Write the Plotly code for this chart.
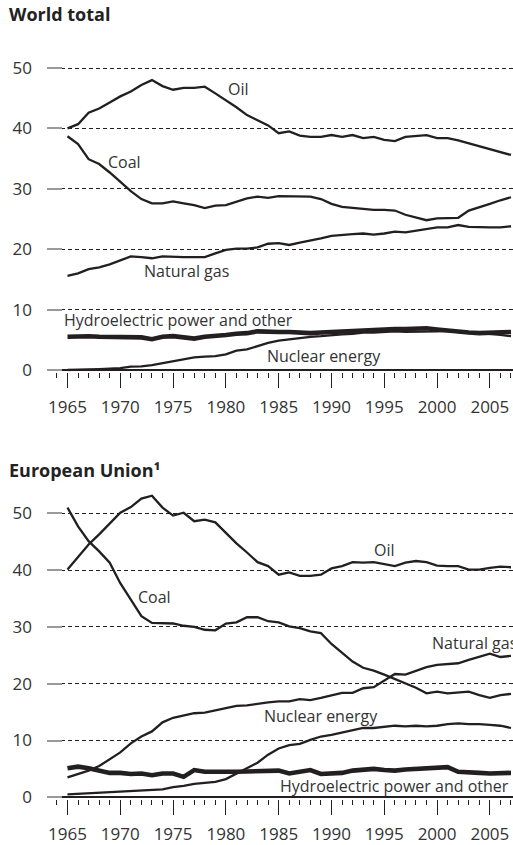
import plotly.graph_objects as go
from plotly.subplots import make_subplots

years = list(range(1965, 2008))

# World total (% share)
world_oil = [40.0, 40.7, 42.6, 43.3, 44.3, 45.3, 46.1, 47.2, 48.0, 47.0, 46.4, 46.7, 46.7, 46.9, 45.8,
             44.7, 43.5, 42.2, 41.4, 40.5, 39.2, 39.5, 38.8, 38.6, 38.6, 38.9, 38.6, 38.9, 38.4, 38.6,
             38.1, 37.9, 38.6, 38.7, 38.9, 38.4, 38.4, 38.0, 37.5, 37.1, 36.6, 36.0, 35.6]
world_coal = [38.7, 37.4, 34.9, 34.1, 32.7, 31.2, 29.6, 28.3, 27.6, 27.6, 27.9, 27.6, 27.3, 26.8, 27.2,
              27.3, 27.9, 28.4, 28.7, 28.5, 28.8, 28.8, 28.8, 28.7, 28.3, 27.5, 27.0, 26.8, 26.7, 26.5,
              26.5, 26.4, 25.7, 25.3, 24.8, 25.1, 25.1, 25.2, 26.4, 26.9, 27.5, 28.1, 28.6]
world_gas = [15.6, 16.0, 16.7, 17.0, 17.5, 18.2, 18.8, 18.7, 18.5, 18.8, 18.7, 18.7, 18.7, 18.7, 19.3,
             19.9, 20.1, 20.1, 20.3, 20.9, 21.0, 20.7, 21.1, 21.4, 21.8, 22.2, 22.4, 22.5, 22.6, 22.4,
             22.6, 22.9, 22.8, 23.1, 23.3, 23.6, 23.6, 24.0, 23.7, 23.6, 23.6, 23.6, 23.8]
world_hydro = [5.5, 5.6, 5.6, 5.5, 5.5, 5.4, 5.4, 5.4, 5.1, 5.5, 5.6, 5.4, 5.2, 5.5, 5.6,
               5.8, 6.0, 6.1, 6.4, 6.3, 6.3, 6.3, 6.2, 6.1, 6.2, 6.3, 6.3, 6.4, 6.6, 6.6,
               6.7, 6.8, 6.8, 6.9, 6.9, 6.7, 6.5, 6.3, 6.2, 6.1, 6.2, 6.3, 6.3]
world_nuclear = [0.0, 0.0, 0.1, 0.15, 0.2, 0.3, 0.55, 0.6, 0.8, 1.1, 1.5, 1.8, 2.1, 2.2, 2.3,
                 2.6, 3.2, 3.4, 3.9, 4.5, 4.85, 5.1, 5.35, 5.5, 5.6, 5.8, 5.9, 6.0, 6.2, 6.2,
                 6.3, 6.4, 6.3, 6.3, 6.4, 6.4, 6.5, 6.3, 6.1, 6.1, 6.0, 5.8, 5.6]

# European Union (% share)
eu_oil = [40.1, 42.4, 44.5, 46.3, 48.2, 50.1, 51.1, 52.6, 53.1, 51.0, 49.6, 50.1, 48.6, 48.9, 48.4,
          46.6, 44.7, 43.1, 41.4, 40.7, 39.2, 39.6, 39.0, 39.0, 39.2, 40.3, 40.7, 41.4, 41.3, 41.4,
          41.1, 40.7, 41.3, 41.6, 41.4, 40.8, 40.7, 40.7, 40.1, 40.1, 40.4, 40.6, 40.5]
eu_coal = [51.0, 47.7, 45.1, 43.3, 41.3, 37.7, 34.8, 31.9, 30.7, 30.7, 30.6, 30.2, 30.0, 29.5, 29.4,
           30.6, 30.8, 31.7, 31.7, 31.0, 30.8, 30.1, 29.8, 29.2, 28.9, 27.0, 25.4, 23.9, 22.8, 22.3,
           21.6, 20.8, 20.1, 19.3, 18.3, 18.6, 18.3, 18.4, 18.6, 18.0, 17.5, 18.0, 18.2]
eu_gas = [3.5, 4.1, 4.7, 5.5, 6.7, 7.9, 9.5, 10.7, 11.6, 13.2, 14.0, 14.4, 14.8, 14.9, 15.3,
          15.7, 16.1, 16.2, 16.5, 16.7, 16.9, 16.9, 17.3, 17.1, 17.5, 18.0, 18.4, 18.4, 19.2, 19.4,
          20.6, 21.7, 21.6, 22.2, 22.9, 23.3, 23.5, 23.6, 24.2, 24.7, 25.3, 24.7, 24.9]
eu_hydro = [5.1, 5.4, 5.1, 4.7, 4.3, 4.3, 4.1, 4.2, 3.9, 4.2, 4.2, 3.6, 4.8, 4.5, 4.6,
            4.5, 4.5, 4.6, 4.6, 4.7, 4.7, 4.2, 4.5, 4.8, 4.1, 4.2, 4.3, 4.7, 4.8, 5.0,
            4.8, 4.7, 4.9, 5.0, 5.1, 5.1, 5.3, 4.5, 4.3, 4.3, 4.2, 4.2, 4.3]
eu_nuclear = [0.5, 0.6, 0.7, 0.7, 0.8, 0.9, 1.0, 1.1, 1.2, 1.4, 1.8, 2.0, 2.35, 2.5, 2.7,
              3.2, 4.2, 5.1, 6.1, 7.5, 8.6, 9.2, 9.4, 10.1, 10.7, 11.0, 11.4, 11.7, 12.2, 12.2,
              12.4, 12.6, 12.5, 12.6, 12.5, 12.6, 12.9, 13.0, 12.9, 12.9, 12.75, 12.6, 12.2]

y_ticks = [0, 10, 20, 30, 40, 50]

INK = "#231f20"
TXT = "#333333"
FONT = "Open Sans"

fig = make_subplots(rows=2, cols=1)

def add(series, row, width):
    fig.add_trace(go.Scatter(x=years, y=series, mode="lines",
                             line=dict(color=INK, width=width), showlegend=False,
                             hoverinfo="skip"), row=row, col=1)

for s in [world_oil, world_coal, world_gas, world_nuclear]:
    add(s, 1, 2.3)
add(world_hydro, 1, 4.6)
for s in [eu_oil, eu_coal, eu_gas, eu_nuclear]:
    add(s, 2, 2.3)
add(eu_hydro, 2, 4.6)

W, H = 513, 845
xdom = [47 / W, 1.0]
xrange = [1963.06, 2007.19]

xcommon = dict(range=xrange, domain=xdom, tickmode="linear", tick0=1965, dtick=5,
               ticks="outside", ticklen=15, tickwidth=1.2, tickcolor=INK,
               showgrid=False, zeroline=False, showline=False, automargin=False,
               ticklabelstandoff=5,
               tickfont=dict(family=FONT, size=17, color=TXT),
               minor=dict(dtick=1, tick0=1965, ticks="outside", ticklen=5,
                          tickwidth=1, tickcolor=INK, showgrid=False))
ycommon = dict(tickvals=y_ticks, ticks="inside", ticklen=15, tickwidth=2,
               tickcolor="#9a9a9a", showgrid=True, gridcolor=INK, gridwidth=1,
               griddash="4px,3px", zeroline=True, zerolinecolor=INK, zerolinewidth=1.5,
               showline=False, ticklabelstandoff=14, automargin=False,
               tickfont=dict(family=FONT, size=17, color=TXT))

# top: y=0 at px 370, 6.04 px/unit ; bottom: y=0 at px 797.3, 5.68 px/unit
top_range = [-0.25, 52]
top_dom = [(H - (370 + 0.25 * 6.04)) / H, (H - (370 - 52 * 6.04)) / H]
bot_range = [-0.25, 55]
bot_dom = [(H - (797.3 + 0.25 * 5.68)) / H, (H - (797.3 - 55 * 5.68)) / H]

fig.update_layout(
    width=W, height=H, margin=dict(l=0, r=0, t=0, b=0, autoexpand=False),
    paper_bgcolor="white", plot_bgcolor="white",
    font=dict(family=FONT, color=TXT),
    xaxis=dict(**xcommon), xaxis2=dict(**xcommon),
    yaxis=dict(range=top_range, domain=top_dom, **ycommon),
    yaxis2=dict(range=bot_range, domain=bot_dom, **ycommon),
)

ann = []
def lab(text, x, y, xref, yref, xanchor="center", size=16):
    ann.append(dict(text=text, x=x, y=y, xref=xref, yref=yref, xanchor=xanchor,
                    yanchor="middle", showarrow=False,
                    font=dict(family=FONT, size=size, color=TXT)))

lab("Oil", 1981.2, 46.5, "x", "y")
lab("Coal", 1970.4, 34.4, "x", "y")
lab("Natural gas", 1976.3, 16.4, "x", "y")
lab("Hydroelectric power and other", 1964.45, 8.3, "x", "y", xanchor="left")
lab("Nuclear energy", 1989.3, 2.3, "x", "y")

lab("Oil", 1995.0, 43.5, "x2", "y2")
lab("Coal", 1973.2, 35.3, "x2", "y2")
lab("Natural gas", 1999.3, 27.2, "x2", "y2", xanchor="left")
lab("Nuclear energy", 1983.4, 14.3, "x2", "y2", xanchor="left")
lab("Hydroelectric power and other", 1984.9, 2.0, "x2", "y2", xanchor="left")

for t, ypx in [("<b>World total</b>", 14), ("<b>European Union¹</b>", 470)]:
    ann.append(dict(text=t, x=7 / W, y=1 - ypx / H, xref="paper", yref="paper",
                    xanchor="left", yanchor="middle", showarrow=False,
                    font=dict(family=FONT, size=18, color="#222222")))

fig.update_layout(annotations=ann)
fig.write_html("out.html", config={"displayModeBar": False},
               post_script="document.body.style.margin='0';document.body.style.overflow='hidden';")
